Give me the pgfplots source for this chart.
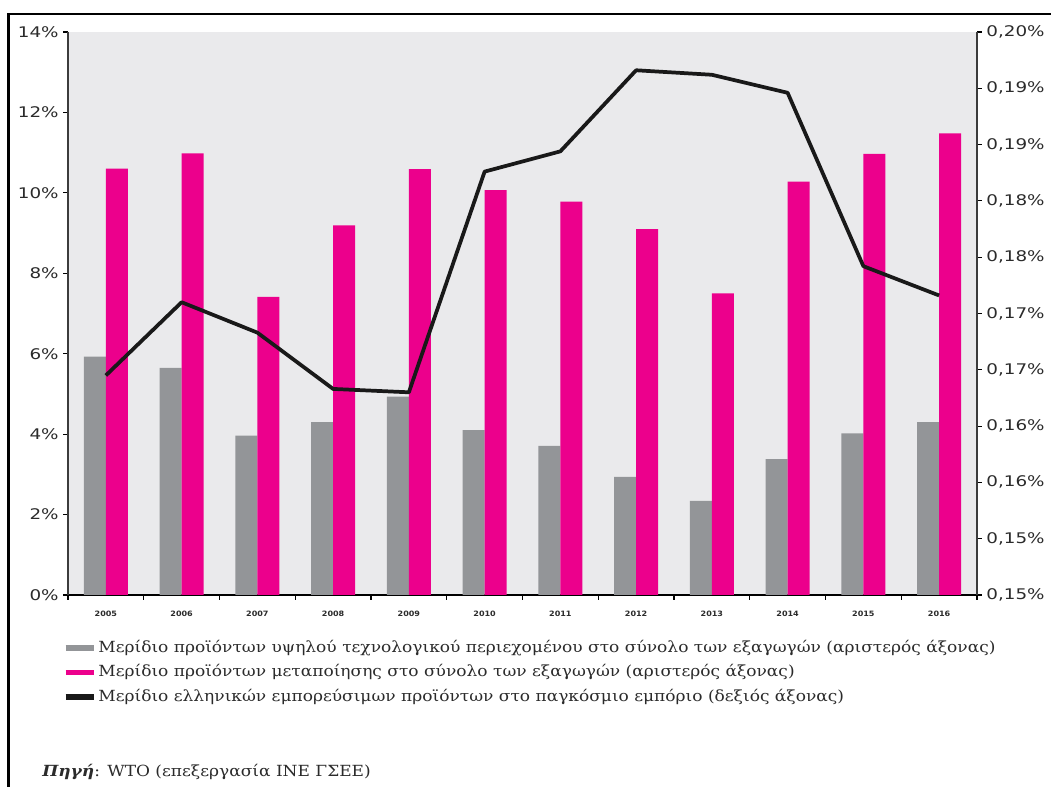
\documentclass[border=0pt]{standalone}
\usepackage{pgfplots}
\pgfplotsset{compat=1.18}
\usepackage{pgfplotstable}
\usepackage{fontspec}
\setmainfont{DejaVu Serif}
\newfontfamily\legfont[FakeStretch=1.11]{DejaVu Serif}
\newfontfamily\tickfont[FakeStretch=1.25]{DejaVu Sans}
\newfontfamily\yearfont[FakeStretch=1.1]{DejaVu Sans}

\definecolor{barpink}{HTML}{EC008C}
\definecolor{bargray}{HTML}{939598}
\definecolor{plotbg}{HTML}{EAEAEC}
\definecolor{txt}{HTML}{2B2B2B}
\definecolor{axgray}{HTML}{3C3C3C}

% year index, high-tech share, manufacturing share (left axis), world trade share (right axis)
\pgfplotstableread{
x  tech   manuf  world
0  5.93   10.60  0.1695
1  5.65   10.98  0.1760
2  3.96   7.41   0.1733
3  4.30   9.19   0.1683
4  4.93   10.59  0.1680
5  4.10   10.07  0.1876
6  3.71   9.78   0.1894
7  2.94   9.10   0.1966
8  2.34   7.50   0.1962
9  3.38   10.28  0.1946
10 4.02   10.97  0.1792
11 4.30   11.48  0.1766
}\data

\pgfplotsset{
  common/.style={
    scale only axis,
    width=681.75pt, height=422.25pt,
    at={(51pt,144pt)}, anchor=south west,
    xmin=-0.5, xmax=11.5,
    tick align=outside,
    major tick length=3.5pt,
    tick style={black, line width=0.8pt},
  }
}

\begin{document}
\begin{tikzpicture}
\useasboundingbox (0,0) rectangle (788.25pt,590.25pt);
\draw[line width=1.8pt] (6.5pt,0) -- (6.5pt,579.75pt) -- (788.25pt,579.75pt);

\begin{axis}[
  common,
  ymin=0, ymax=14,
  axis y line*=left, axis x line*=bottom,
  axis background/.style={fill=plotbg},
  y axis line style={axgray, line width=1.8pt},
  x axis line style={black, line width=1.4pt},
  ytick={0,2,...,14},
  yticklabels={0\%,2\%,4\%,6\%,8\%,10\%,12\%,14\%},
  yticklabel style={font=\tickfont\fontsize{11}{13}\selectfont, text=txt},
  xtick={-0.5,0.5,...,11.5},
  x tick label as interval,
  xticklabels={2005,2006,2007,2008,2009,2010,2011,2012,2013,2014,2015,2016},
  xticklabel style={font=\yearfont\bfseries\fontsize{5.5}{6}\selectfont, text=txt, yshift=-5pt},
  ybar=0pt, bar width=16.5pt,
]
\addplot[fill=bargray, draw=none] table[x=x, y=tech] {\data};
\addplot[fill=barpink, draw=none] table[x=x, y=manuf] {\data};
\end{axis}

\begin{axis}[
  common,
  ymin=0.15, ymax=0.20,
  axis y line*=right,
  axis x line=none,
  y axis line style={axgray, line width=1.8pt},
  ytick={0.150,0.155,0.160,0.165,0.170,0.175,0.180,0.185,0.190,0.195,0.200},
  yticklabels={0{,}15\%,0{,}15\%,0{,}16\%,0{,}16\%,0{,}17\%,0{,}17\%,0{,}18\%,0{,}18\%,0{,}19\%,0{,}19\%,0{,}20\%},
  yticklabel style={font=\tickfont\fontsize{11}{13}\selectfont, text=txt},
  legend image code/.code={\draw[#1, line width=4pt] (0pt,0pt) -- (21.5pt,0pt);},
  legend style={
    at={(-0.0055,-0.0776)}, anchor=north west,
    draw=none, fill=none, inner sep=0pt, outer sep=0pt,
    font=\legfont\fontsize{11.5}{13}\selectfont, text=txt,
    nodes={inner sep=1pt, text height=9pt, text depth=3pt},
    row sep=4.4pt, column sep=0pt,
  },
  legend cell align=left,
]
\addlegendimage{bargray}
\addlegendentry{Μερίδιο προϊόντων υψηλού τεχνολογικού περιεχομένου στο σύνολο των εξαγωγών (αριστερός άξονας)}
\addlegendimage{barpink}
\addlegendentry{Μερίδιο προϊόντων μεταποίησης στο σύνολο των εξαγωγών (αριστερός άξονας)}
\addplot[color=black!90, line width=2.8pt, line join=round, mark=none] table[x=x, y=world] {\data};
\addlegendentry{Μερίδιο ελληνικών εμπορεύσιμων προϊόντων στο παγκόσμιο εμπόριο (δεξιός άξονας)}
\end{axis}

\node[anchor=west, inner sep=0pt, text=txt, font=\legfont\fontsize{11.5}{13}\selectfont] at (31.5pt,11.25pt)
  {\textbf{\textit{Πηγή}}: WTO (επεξεργασία ΙΝΕ ΓΣΕΕ)};
\end{tikzpicture}
\end{document}
